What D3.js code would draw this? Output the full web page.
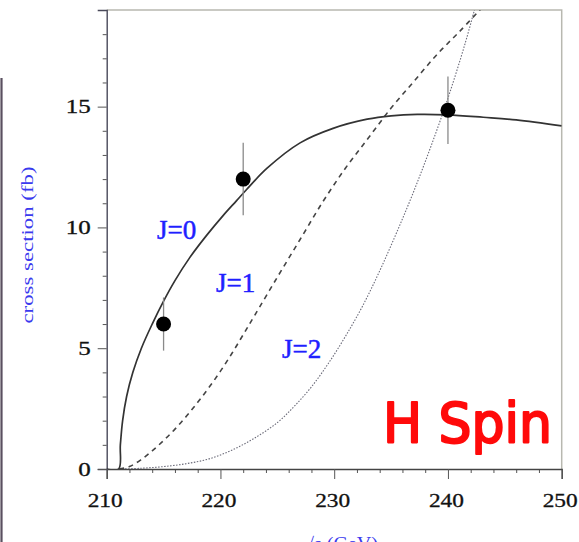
<!DOCTYPE html>
<html>
<head>
<meta charset="utf-8">
<script src="https://cdn.jsdelivr.net/npm/d3@7"></script>
<style>
  html, body { margin: 0; padding: 0; background: #fff; }
  svg { display: block; }
</style>
</head>
<body>
<svg id="chart" width="579" height="542"></svg>
<script>
// Threshold scan: production cross section vs. centre-of-mass energy
// Curves for spin hypotheses J=0, J=1, J=2 and three measured points.

const xTicksMajor = [210, 220, 230, 240, 250];
const xTicksMinor = [212, 214, 216, 218, 222, 224, 226, 228, 232, 234, 236, 238, 242, 244, 246, 248];
const yTicksMajor = [0, 5, 10, 15];
const yTicksMinor = [1, 2, 3, 4, 6, 7, 8, 9, 11, 12, 13, 14, 16, 17, 18];

// [sqrt(s) GeV, sigma fb]
const spin0 = [
  [210, 0], [211.05, 0], [211.2, 1.0], [211.4, 2.0], [211.75, 3.0], [212.3, 4.0],
  [213.05, 5.0], [214.0, 6.0], [215.0, 6.95], [216.0, 7.8], [217.3, 8.75],
  [218.8, 9.68], [220.25, 10.5], [221.4, 11.1], [222.3, 11.57], [224.1, 12.45],
  [227.0, 13.5], [229.9, 14.1], [232.9, 14.48], [235.0, 14.62], [237.3, 14.68],
  [240.0, 14.66], [243.1, 14.56], [246.0, 14.45], [250, 14.2]
];
const spin1 = [
  [211.1, 0], [212, 0.1], [213, 0.38], [214, 0.75], [215, 1.18], [216, 1.65],
  [217, 2.18], [218, 2.76], [219, 3.38], [220, 4.05], [221, 4.78], [222, 5.56],
  [223, 6.35], [225, 7.94], [227, 9.5], [229, 11.06], [231, 12.46], [233, 13.7],
  [235, 14.94], [237, 16.04], [239, 17.14], [241, 18.1], [243, 19.1]
];
const spin2 = [
  [211.1, 0], [213, 0.03], [215, 0.1], [217, 0.22], [219, 0.42], [221, 0.78],
  [223, 1.28], [225, 1.92], [226.5, 2.6], [228, 3.4], [229.5, 4.38], [231, 5.5],
  [232.5, 6.75], [234, 8.2], [235.5, 9.8], [237, 11.5], [238.5, 13.35],
  [240, 15.35], [241.5, 17.6], [242.5, 19.3]
];

const measX = [215, 222, 240];
const measY = [6.0, 12.0, 14.85];
const measErr = [1.1, 1.5, 1.4];

const curveLabels = ["J=0", "J=1", "J=2"];
const labelAt = [[157, 239], [216, 292], [282, 358]];

const svg = d3.select("#chart");
const x = d3.scaleLinear().domain([210, 250]).range([106.7, 561.7]);
const y = d3.scaleLinear().domain([0, 19]).range([469, 10]);

// stray frame edge at far left
svg.append("line")
  .attr("x1", 1.5).attr("x2", 1.5).attr("y1", 78).attr("y2", 542)
  .attr("stroke", "#5a5060").attr("stroke-width", 2.2);

// plot frame (top and right)
svg.append("path")
  .attr("d", `M${x(210)},${y(19)}H${x(250)}V${y(0)}`)
  .attr("fill", "none").attr("stroke", "#b8b8b0").attr("stroke-width", 1.5);

// axes
const serif = "'Liberation Serif', 'Times New Roman', serif";
const gx = svg.append("g").attr("transform", `translate(0,${y(0)})`);
gx.call(d3.axisBottom(x).tickValues(xTicksMinor).tickSize(4).tickFormat(""));
gx.call(g => g.select(".domain").remove());
const gxM = svg.append("g").attr("transform", `translate(0,${y(0)})`);
gxM.call(d3.axisBottom(x).tickValues(xTicksMajor).tickSize(10).tickPadding(15).tickFormat(d3.format("d")));
gxM.select(".domain").attr("stroke", "#444").attr("stroke-width", 1.4);
gxM.selectAll("text")
  .attr("font-family", serif).attr("font-size", 19).attr("fill", "#111")
  .attr("stroke", "#111").attr("stroke-width", 0.3)
  .attr("textLength", 35).attr("lengthAdjust", "spacingAndGlyphs")
  .attr("dy", "0.71em").attr("dx", -2);

const gy = svg.append("g").attr("transform", `translate(${x(210)},0)`);
gy.call(d3.axisLeft(y).tickValues(yTicksMinor).tickSize(4).tickFormat(""));
gy.call(g => g.select(".domain").remove());
const gyM = svg.append("g").attr("transform", `translate(${x(210)},0)`);
gyM.call(d3.axisLeft(y).tickValues(yTicksMajor).tickSize(9).tickPadding(7).tickFormat(d3.format("d")));
gyM.select(".domain").attr("stroke", "#4a4a5a").attr("stroke-width", 1.4);
gyM.selectAll("text")
  .attr("font-family", serif).attr("font-size", 19).attr("fill", "#111")
  .attr("stroke", "#111").attr("stroke-width", 0.3)
  .attr("textLength", d => String(d).length * 12.5).attr("lengthAdjust", "spacingAndGlyphs");
svg.selectAll("g .tick line").attr("stroke", "#555");

// axis titles
svg.append("text")
  .attr("transform", "translate(33,245) rotate(-90)")
  .attr("text-anchor", "middle")
  .attr("font-family", serif).attr("font-size", 17).attr("fill", "#3a3aee")
  .attr("textLength", 157).attr("lengthAdjust", "spacingAndGlyphs")
  .text("cross section (fb)");
svg.append("text")
  .attr("x", 303).attr("y", 550)
  .attr("font-family", serif).attr("font-size", 18).attr("fill", "#3a3aee")
  .attr("textLength", 75).attr("lengthAdjust", "spacingAndGlyphs")
  .text("√s (GeV)");

// curves
svg.append("clipPath").attr("id", "plotclip")
  .append("rect").attr("x", x(210)).attr("y", y(19))
  .attr("width", x(250) - x(210)).attr("height", y(0) - y(19));

const line = d3.line().x(d => x(d[0])).y(d => y(d[1])).curve(d3.curveCatmullRom.alpha(0.5));
const curves = svg.append("g").attr("clip-path", "url(#plotclip)");
curves.append("path").datum(spin2).attr("d", line)
  .attr("fill", "none").attr("stroke", "#6a6a78").attr("stroke-width", 1.1)
  .attr("stroke-dasharray", "1.5,1.5");
curves.append("path").datum(spin1).attr("d", line)
  .attr("fill", "none").attr("stroke", "#444").attr("stroke-width", 1.6)
  .attr("stroke-dasharray", "5,4.5");
curves.append("path").datum(spin0).attr("d", line)
  .attr("fill", "none").attr("stroke", "#333").attr("stroke-width", 1.7);

// measurements with error bars
const pts = svg.append("g");
measX.forEach((mx, i) => {
  pts.append("line")
    .attr("x1", x(mx)).attr("x2", x(mx))
    .attr("y1", y(measY[i] + measErr[i])).attr("y2", y(measY[i] - measErr[i]))
    .attr("stroke", "#8a8a8a").attr("stroke-width", 1.3);
  pts.append("circle")
    .attr("cx", x(mx)).attr("cy", y(measY[i])).attr("r", 7.5)
    .attr("fill", "#000");
});

// curve labels
curveLabels.forEach((t, i) => {
  svg.append("text")
    .attr("x", labelAt[i][0]).attr("y", labelAt[i][1])
    .attr("font-family", serif).attr("font-size", 27).attr("fill", "#1f1fff")
    .attr("stroke", "#1f1fff").attr("stroke-width", 0.5)
    .text(t);
});

// panel title
svg.append("text")
  .attr("x", 383).attr("y", 442)
  .attr("font-family", "'Comic Sans MS', 'DejaVu Sans', sans-serif")
  .attr("font-size", 56).attr("fill", "#ff0a0a")
  .attr("stroke", "#ff0a0a").attr("stroke-width", 2.2).attr("stroke-linejoin", "round")
  .attr("textLength", 169).attr("lengthAdjust", "spacingAndGlyphs")
  .text("H Spin");
</script>
</body>
</html>
